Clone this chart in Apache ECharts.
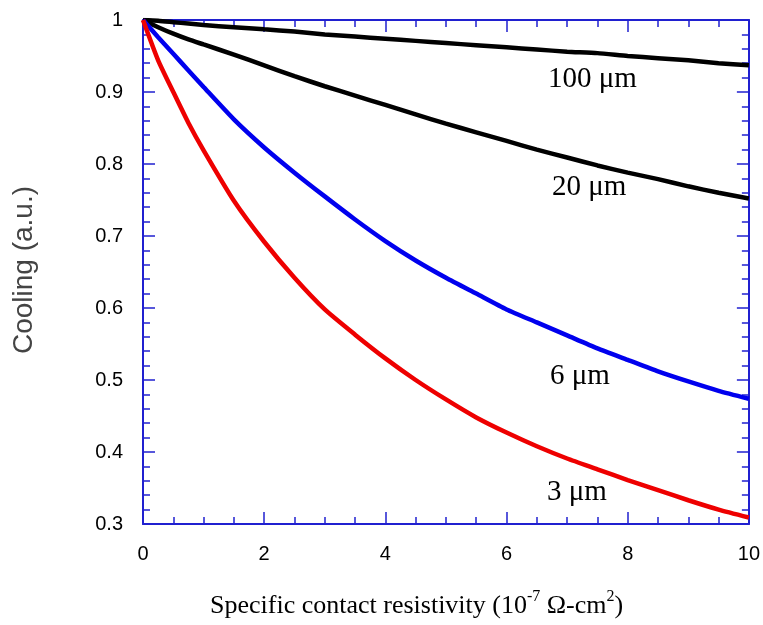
<!DOCTYPE html>
<html>
<head>
<meta charset="utf-8">
<script src="https://cdn.jsdelivr.net/npm/echarts@6/dist/echarts.min.js"></script>
<style>html,body{margin:0;padding:0;background:#fff}#c{width:763px;height:625px}</style>
</head>
<body>
<div id="c"></div>
<script>
// Data
const resistivity = [0, 0.25, 0.5, 0.75, 1, 1.5, 2, 2.5, 3, 3.5, 4, 4.5, 5, 5.5, 6, 6.5, 7, 7.5, 8, 8.5, 9, 9.5, 10];
const cooling100um = [1, 0.999, 0.997, 0.995, 0.993, 0.990, 0.987, 0.984, 0.980, 0.977, 0.974, 0.971, 0.968, 0.965, 0.962, 0.959, 0.956, 0.954, 0.950, 0.947, 0.944, 0.940, 0.937];
const cooling20um = [1, 0.990, 0.981, 0.973, 0.966, 0.952, 0.937, 0.922, 0.908, 0.895, 0.882, 0.869, 0.856, 0.844, 0.832, 0.820, 0.809, 0.798, 0.788, 0.779, 0.769, 0.760, 0.752];
const cooling6um = [1, 0.976, 0.953, 0.930, 0.907, 0.862, 0.823, 0.788, 0.755, 0.723, 0.693, 0.666, 0.642, 0.620, 0.598, 0.580, 0.562, 0.544, 0.528, 0.512, 0.498, 0.485, 0.474];
const cooling3um = [1, 0.944, 0.900, 0.857, 0.819, 0.749, 0.692, 0.642, 0.598, 0.563, 0.530, 0.500, 0.473, 0.448, 0.427, 0.408, 0.391, 0.376, 0.361, 0.347, 0.333, 0.320, 0.309];
const seriesNames = ['100 \u03bcm', '20 \u03bcm', '6 \u03bcm', '3 \u03bcm'];
const xTitle = 'Specific contact resistivity';
const yTitle = 'Cooling (a.u.)';

const axisColor = '#2020d0';
const tickFont = 'Liberation Sans';
const pair = arr => resistivity.map((x, i) => [x, arr[i]]);

function xAx(pos, showLabel) {
  return {
    type: 'value', position: pos, min: 0, max: 10, interval: 2,
    axisLine: { show: true, onZero: false, lineStyle: { color: axisColor, width: 2 } },
    axisTick: { show: true, inside: true, length: 12, lineStyle: { color: axisColor, width: 1.5 } },
    minorTick: { show: true, splitNumber: 4, length: 7, lineStyle: { color: axisColor, width: 1.5 } },
    splitLine: { show: false },
    axisLabel: { show: showLabel, margin: 20, fontSize: 20, fontFamily: tickFont, color: '#000' }
  };
}
function yAx(pos, showLabel) {
  return {
    type: 'value', position: pos, min: 0.3, max: 1, interval: 0.1,
    axisLine: { show: true, onZero: false, lineStyle: { color: axisColor, width: 2 } },
    axisTick: { show: true, inside: true, length: 12, lineStyle: { color: axisColor, width: 1.5 } },
    minorTick: { show: true, splitNumber: 5, length: 7, lineStyle: { color: axisColor, width: 1.5 } },
    splitLine: { show: false },
    axisLabel: { show: showLabel, margin: 20, fontSize: 20, fontFamily: tickFont, color: '#000',
      formatter: v => String(Math.round(v * 10) / 10) }
  };
}
function line(name, arr, color) {
  return { name, type: 'line', xAxisIndex: 0, yAxisIndex: 0, data: pair(arr), showSymbol: false, symbol: 'none',
    smooth: 0.2, lineStyle: { color, width: 4.5 }, itemStyle: { color }, z: 3, animation: false };
}

const chart = echarts.init(document.getElementById('c'), null, { renderer: 'canvas' });
const serif = 'Liberation Serif';
chart.setOption({
  animation: false,
  backgroundColor: '#fff',
  grid: { left: 143, right: 11, top: 20, bottom: 101, containLabel: false },
  xAxis: [xAx('bottom', true), xAx('top', false)],
  yAxis: [yAx('left', true), yAx('right', false)],
  series: [
    line(seriesNames[0], cooling100um, '#000'),
    line(seriesNames[1], cooling20um, '#000'),
    line(seriesNames[2], cooling6um, '#0000ee'),
    line(seriesNames[3], cooling3um, '#ee0000')
  ],
  graphic: [
    { type: 'text', left: 548, top: 65, style: { text: seriesNames[0], font: '29px ' + serif, fill: '#000' } },
    { type: 'text', left: 552, top: 173, style: { text: seriesNames[1], font: '29px ' + serif, fill: '#000' } },
    { type: 'text', left: 550, top: 362, style: { text: seriesNames[2], font: '29px ' + serif, fill: '#000' } },
    { type: 'text', left: 547, top: 478, style: { text: seriesNames[3], font: '29px ' + serif, fill: '#000' } },
    { type: 'text', left: 210, top: 589, style: {
        text: '{a|' + xTitle + ' (10}{s|-7}{a| \u03a9-cm}{s|2}{a|)}',
        rich: {
          a: { fontFamily: serif, fontSize: 26, fill: '#000', verticalAlign: 'bottom', lineHeight: 30 },
          s: { fontFamily: serif, fontSize: 16, fill: '#000', verticalAlign: 'top', padding: [0, 0, 13, 0], lineHeight: 30 }
        } } },
    { type: 'text', x: 24, y: 270, rotation: Math.PI / 2, style: {
        text: yTitle, font: '28px Liberation Sans', fill: '#444', align: 'center', verticalAlign: 'middle' } }
  ]
});
</script>
</body>
</html>
